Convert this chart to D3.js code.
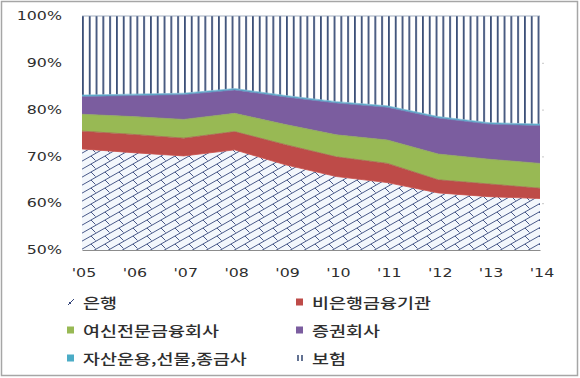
<!DOCTYPE html>
<html>
<head>
<meta charset="utf-8">
<script src="https://cdn.jsdelivr.net/npm/d3@7"></script>
<style>
  body { margin: 0; background: #fff; }
</style>
</head>
<body>
<script>
const width = 580;
const height = 378;

// data (share of each sector, %)
const years = ["'05", "'06", "'07", "'08", "'09", "'10", "'11", "'12", "'13", "'14"];
const bank = [71.6, 70.8, 70.1, 71.4, 68.2, 65.7, 64.4, 62.2, 61.4, 61.0];
const nonBank = [3.8, 3.9, 3.8, 3.9, 4.3, 4.2, 4.1, 2.8, 2.7, 2.2];
const creditFin = [3.6, 3.8, 4.0, 3.9, 4.3, 4.7, 5.0, 5.5, 5.3, 5.3];
const securities = [3.8, 4.5, 5.3, 5.0, 5.9, 6.8, 7.0, 7.7, 7.5, 8.1];
const assetMgmt = [0.3, 0.3, 0.3, 0.3, 0.3, 0.3, 0.3, 0.3, 0.3, 0.3];
const insurance = [16.9, 16.7, 16.5, 15.5, 17.0, 18.3, 19.2, 21.5, 22.8, 23.1];
const yTicks = [50, 60, 70, 80, 90, 100];

const seriesNames = ["은행", "비은행금융기관", "여신전문금융회사", "증권회사", "자산운용,선물,종금사", "보험"];
const seriesValues = [bank, nonBank, creditFin, securities, assetMgmt, insurance];

const colors = {
  "은행": "url(#bankHatch)",
  "비은행금융기관": "#be4b48",
  "여신전문금융회사": "#98b954",
  "증권회사": "#7b5d9f",
  "자산운용,선물,종금사": "#4bacc6",
  "보험": "url(#insVert)"
};

const plot = { left: 82, right: 540, top: 16, bottom: 250 };
const textStretch = 1.32;

const scale = {
  x: d3.scalePoint().domain(years).range([plot.left, plot.right]),
  y: d3.scaleLinear().domain([50, 100]).range([plot.bottom, plot.top])
};

const svg = d3.select("body").append("svg")
  .attr("width", width)
  .attr("height", height);

appendPatterns(svg);
appendFrame(svg);
appendAreas(svg);
appendAxes(svg);
appendLegend(svg);

function appendPatterns(svg) {
  const defs = svg.append("defs");

  // brick-like diagonal hatch of the bank layer
  const bp = defs.append("pattern")
    .attr("id", "bankHatch")
    .attr("patternUnits", "userSpaceOnUse")
    .attr("width", 14)
    .attr("height", 8);
  bp.append("rect").attr("width", 14).attr("height", 8).attr("fill", "#f3f7fc");
  bp.append("path")
    .attr("d", "M0,8L14,0M-3,1.7L3,-1.7M11,9.7L17,6.3M7,4L11.5,8.5M7,-4L11.5,0.5")
    .attr("stroke", "#34457a")
    .attr("stroke-width", 0.9)
    .attr("fill", "none");

  // vertical lines of the insurance layer
  const ip = defs.append("pattern")
    .attr("id", "insVert")
    .attr("patternUnits", "userSpaceOnUse")
    .attr("x", plot.left)
    .attr("width", 6.8)
    .attr("height", 10);
  ip.append("rect").attr("width", 6.8).attr("height", 10).attr("fill", "#ffffff");
  ip.append("rect").attr("x", 0).attr("width", 1.8).attr("height", 10).attr("fill", "#3d5078");

  defs.append("clipPath").attr("id", "plotClip")
    .append("rect")
    .attr("x", plot.left - 1)
    .attr("y", plot.top - 1)
    .attr("width", plot.right - plot.left + 2)
    .attr("height", plot.bottom - plot.top + 1);
}

function appendFrame(svg) {
  svg.append("rect")
    .attr("x", 1.5).attr("y", 1.5)
    .attr("width", width - 4).attr("height", height - 4)
    .attr("fill", "#fff")
    .attr("stroke", "#a6a6a6")
    .attr("stroke-width", 1.5);
}

function appendAreas(svg) {
  const table = years.map((yr, i) => {
    const row = { year: yr };
    seriesNames.forEach((n, j) => { row[n] = seriesValues[j][i]; });
    return row;
  });

  const stacked = d3.stack().keys(seriesNames)(table);

  const area = d3.area()
    .x(d => scale.x(d.data.year))
    .y0(d => scale.y(d[0]))
    .y1(d => scale.y(d[1]));

  const g = svg.append("g").attr("clip-path", "url(#plotClip)");

  g.selectAll("path.layer")
    .data(stacked)
    .enter()
    .append("path")
    .attr("class", "layer")
    .attr("d", area)
    .attr("fill", d => colors[d.key]);

  // thin edges along the top of each coloured layer
  const edge = d3.line()
    .x(d => scale.x(d.data.year))
    .y(d => scale.y(d[1]));
  const edgeColors = ["#c94f4a", "#a8604e", "#8fa85a", "#6f7fb8", "#7fb8d6", "#8a9bb0"];
  g.selectAll("path.edge")
    .data(stacked)
    .enter()
    .append("path")
    .attr("class", "edge")
    .attr("d", edge)
    .attr("fill", "none")
    .attr("stroke", (d, i) => edgeColors[i])
    .attr("stroke-width", 0.8);
}

function stretchedText(parent, x, y, anchor, text, size, family, weight) {
  const g = parent.append("g")
    .attr("transform", `translate(${x},${y}) scale(${textStretch},1)`);
  g.append("text")
    .attr("text-anchor", anchor)
    .attr("dominant-baseline", "central")
    .style("font-family", family)
    .style("font-size", size + "px")
    .style("font-weight", weight || 400)
    .attr("fill", "#2e2e2e")
    .text(text);
  return g;
}

function appendAxes(svg) {
  // bottom axis line
  svg.append("g")
    .attr("transform", `translate(0,${plot.bottom})`)
    .call(d3.axisBottom(scale.x).tickSize(0).tickFormat(""))
    .call(g => g.select(".domain").attr("stroke", "#8c8c8c").attr("stroke-width", 1.2));

  // tiny right-hand ticks
  svg.append("g")
    .attr("transform", `translate(${plot.right + 2},0)`)
    .call(d3.axisRight(scale.y).tickValues(yTicks.slice(1, 5)).tickSize(2).tickFormat(""))
    .call(g => g.select(".domain").remove())
    .call(g => g.selectAll("line").attr("stroke", "#c8c8c8"));

  yTicks.forEach(t => {
    stretchedText(svg, 62, scale.y(t), "end", t + "%", 12, "DejaVu Sans");
  });

  years.forEach(yr => {
    stretchedText(svg, scale.x(yr) + 2, 273, "middle", yr, 12, "DejaVu Sans");
  });
}

function appendLegend(svg) {
  const items = [
    { name: "은행", x: 67, y: 302 },
    { name: "비은행금융기관", x: 296, y: 302 },
    { name: "여신전문금융회사", x: 67, y: 330 },
    { name: "증권회사", x: 296, y: 330 },
    { name: "자산운용,선물,종금사", x: 67, y: 358 },
    { name: "보험", x: 296, y: 358 }
  ];

  const legend = svg.append("g");

  items.forEach(d => {
    if (d.name === "은행") {
      legend.append("path")
        .attr("d", `M${d.x + 1},${d.y + 3}L${d.x + 7},${d.y - 3}M${d.x + 2},${d.y}L${d.x + 4},${d.y + 2}`)
        .attr("stroke", "#34457a")
        .attr("stroke-width", 1)
        .attr("fill", "none");
    } else if (d.name === "보험") {
      legend.append("path")
        .attr("d", `M${d.x + 2},${d.y - 3}V${d.y + 3}M${d.x + 6},${d.y - 3}V${d.y + 3}`)
        .attr("stroke", "#3d5078")
        .attr("stroke-width", 1.6);
    } else {
      legend.append("rect")
        .attr("x", d.x)
        .attr("y", d.y - 3.5)
        .attr("width", 7)
        .attr("height", 7)
        .attr("fill", colors[d.name]);
    }
    stretchedText(legend, d.x + 16, d.y, "start", d.name, 14, "Noto Sans CJK KR", 500);
  });
}
</script>
</body>
</html>
